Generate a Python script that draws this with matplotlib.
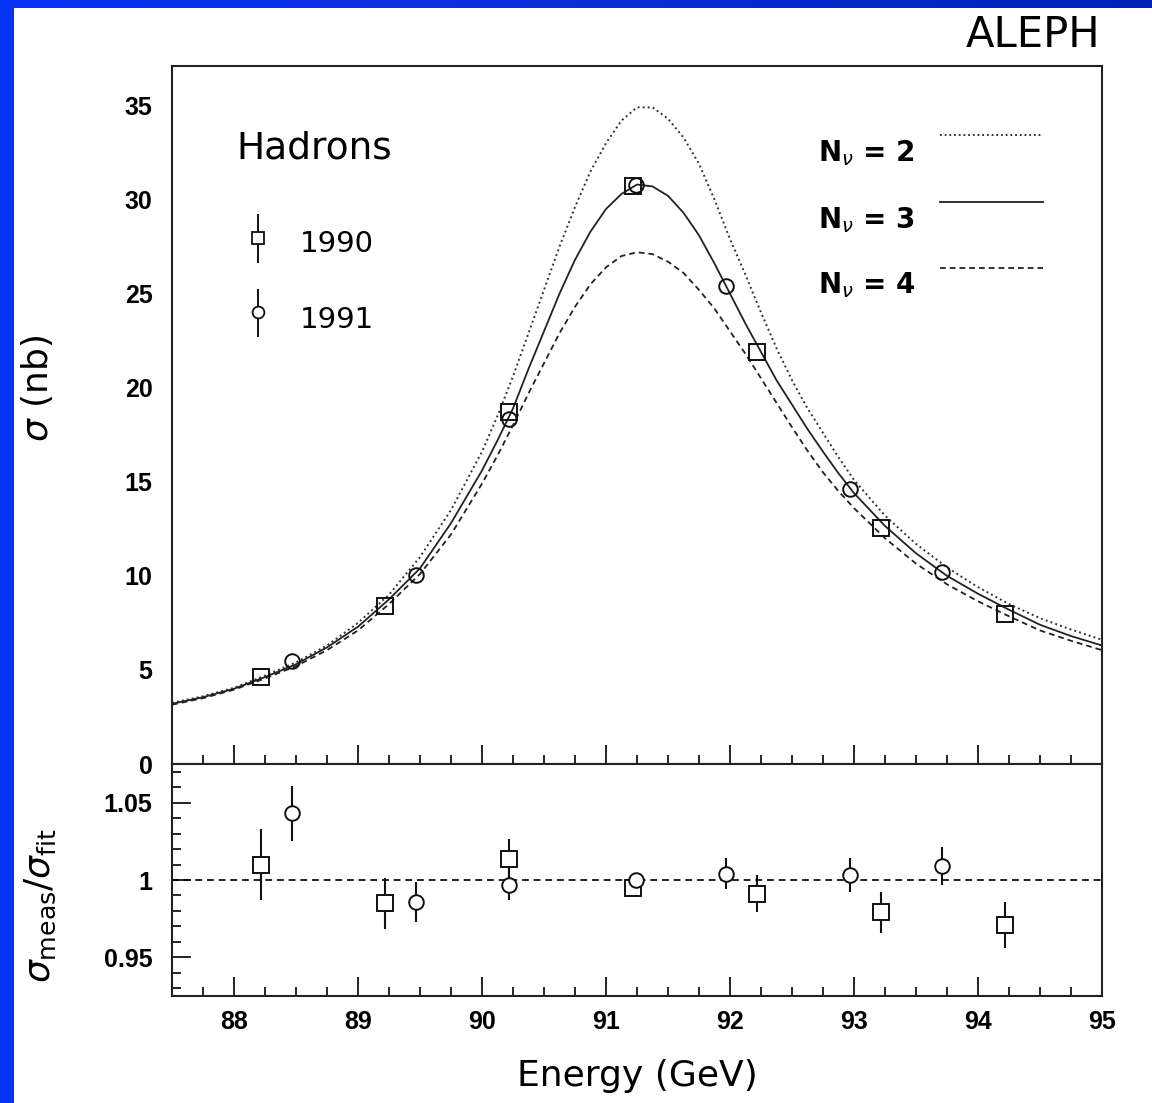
import numpy as np
import matplotlib
matplotlib.use("Agg")
import matplotlib.pyplot as plt
from matplotlib.patches import Rectangle

plt.rcParams['font.family'] = ['DejaVu Sans']
plt.rcParams['mathtext.fontset'] = 'dejavusans'

# --- data ---
energy_curve = [87.5, 87.75, 88.0, 88.25, 88.5, 88.75, 89.0, 89.25, 89.5, 89.75,
                90.0, 90.125, 90.25, 90.375, 90.5, 90.625, 90.75, 90.875, 91.0, 91.125,
                91.25, 91.375, 91.5, 91.625, 91.75, 91.875, 92.0, 92.125, 92.25, 92.375,
                92.5, 92.625, 92.75, 92.875, 93.0, 93.25, 93.5, 93.75, 94.0, 94.25,
                94.5, 94.75, 95.0]
sigma_nu2 = [3.25, 3.6, 4.05, 4.7, 5.4, 6.3, 7.5, 9.0, 11.0, 13.5,
             16.6, 18.5, 20.6, 22.9, 25.2, 27.5, 29.6, 31.5, 33.0, 34.2,
             34.9, 34.9, 34.3, 33.3, 31.9, 30.0, 27.9, 26.0, 24.0, 22.1,
             20.4, 18.9, 17.6, 16.3, 15.1, 13.2, 11.7, 10.45, 9.4, 8.5,
             7.75, 7.15, 6.6]
sigma_nu3 = [3.2, 3.55, 4.0, 4.62, 5.3, 6.2, 7.3, 8.75, 10.4, 12.8,
             15.6, 17.2, 18.9, 21.0, 23.0, 25.0, 26.8, 28.3, 29.5, 30.3,
             30.8, 30.7, 30.2, 29.3, 28.1, 26.6, 25.0, 23.4, 21.9, 20.4,
             19.1, 17.8, 16.6, 15.45, 14.4, 12.65, 11.2, 10.0, 9.05, 8.2,
             7.4, 6.8, 6.3]
sigma_nu4 = [3.15, 3.5, 3.95, 4.55, 5.2, 6.05, 7.1, 8.5, 10.1, 12.2,
             14.9, 16.4, 18.0, 19.7, 21.3, 22.9, 24.3, 25.5, 26.4, 27.0,
             27.2, 27.1, 26.7, 26.1, 25.2, 24.2, 23.0, 21.8, 20.5, 19.2,
             17.9, 16.65, 15.5, 14.5, 13.6, 12.0, 10.65, 9.55, 8.65, 7.85,
             7.1, 6.55, 6.05]

e_1990 = [88.22, 89.22, 90.22, 91.22, 92.22, 93.22, 94.22]
s_1990 = [4.63, 8.4, 18.7, 30.7, 21.9, 12.55, 7.98]
r_1990 = [1.010, 0.985, 1.0135, 0.995, 0.991, 0.979, 0.971]
rerr_1990 = [0.023, 0.0165, 0.013, 0.003, 0.012, 0.013, 0.015]

e_1991 = [88.47, 89.47, 90.22, 91.24, 91.97, 92.97, 93.71]
s_1991 = [5.48, 10.05, 18.35, 30.8, 25.4, 14.6, 10.2]
r_1991 = [1.043, 0.986, 0.997, 1.000, 1.004, 1.003, 1.009]
rerr_1991 = [0.018, 0.013, 0.010, 0.003, 0.010, 0.011, 0.0125]

W, H = 1152, 1103
fig = plt.figure(figsize=(W / 100, H / 100), dpi=100)
fig.patch.set_facecolor('white')

# blue slide frame (left and top strips)
fig.patches.append(Rectangle((0, 0), 14 / W, 1, transform=fig.transFigure,
                             facecolor='#0832f4', edgecolor='none', zorder=0))
band = fig.add_axes([0, 1 - 8 / H, 1, 8 / H])
band.imshow(np.linspace(0, 1, 256)[None, :], aspect='auto',
            cmap=matplotlib.colors.LinearSegmentedColormap.from_list('b', ['#0832f4', '#0a2fd8', '#0022b8']))
band.axis('off')

ax1 = fig.add_axes([172 / W, 1 - 764 / H, 930 / W, 698 / H])
ax2 = fig.add_axes([172 / W, 1 - 996 / H, 930 / W, 232 / H])

tick_font = {'family': 'Liberation Sans', 'weight': 'bold', 'size': 18}
lw = 1.3

# ---- top panel ----
ax1.plot(energy_curve, sigma_nu2, color='#333333', lw=1.4, ls=(0, (1, 1.6)))
ax1.plot(energy_curve, sigma_nu3, color='#222222', lw=lw, ls='-')
ax1.plot(energy_curve, sigma_nu4, color='#222222', lw=lw, ls=(0, (3.2, 2.2)))
ax1.plot(e_1990, s_1990, ls='none', marker='s', ms=11, mfc='none', mec='#111111', mew=1.4)
ax1.plot(e_1991, s_1991, ls='none', marker='o', ms=10.5, mfc='none', mec='#111111', mew=1.4)

ax1.set_xlim(87.5, 95)
ax1.set_ylim(0, 37.1)
ax1.set_yticks([0, 5, 10, 15, 20, 25, 30, 35])
ax1.set_xticks(np.arange(88, 96, 1))
ax1.set_xticks(np.arange(87.75, 95, 0.25), minor=True)
ax1.tick_params(axis='x', which='both', direction='in', bottom=True, top=False,
                labelbottom=False, width=1.2)
ax1.tick_params(axis='x', which='major', length=13.5)
ax1.tick_params(axis='x', which='minor', length=6.5)
ax1.tick_params(axis='y', which='both', left=False, right=False, length=0, pad=14)
for lab in ax1.get_yticklabels():
    lab.set_fontproperties(matplotlib.font_manager.FontProperties(**tick_font))

# legend: data years
t = ax1.transAxes
ax1.text(0.0688, 0.8825, 'Hadrons', transform=t, fontsize=27, va='center', ha='left')
ax1.plot([0.0925, 0.0925], [0.7192, 0.7865], transform=t, color='#111111', lw=1.4)
ax1.plot([0.0925], [0.7536], transform=t, marker='s', ms=8.5, mfc='white', mec='#111111', mew=1.3)
ax1.text(0.1376, 0.745, '1990', transform=t, fontsize=21, va='center', ha='left')
ax1.plot([0.0925, 0.0925], [0.613, 0.679], transform=t, color='#111111', lw=1.4)
ax1.plot([0.0925], [0.6476], transform=t, marker='o', ms=8.5, mfc='white', mec='#111111', mew=1.3)
ax1.text(0.1376, 0.636, '1991', transform=t, fontsize=21, va='center', ha='left')

# legend: neutrino families
nu_labels = [r'N$_\nu$ = 2', r'N$_\nu$ = 3', r'N$_\nu$ = 4']
nu_styles = [(0, (1, 1.6)), '-', (0, (3.2, 2.2))]
text_y = [0.8754, 0.779, 0.686]
line_y = [0.9011, 0.8052, 0.7106]
for lab, st, ty, ly in zip(nu_labels, nu_styles, text_y, line_y):
    ax1.text(0.6946, ty, lab, transform=t, fontsize=20, fontweight='bold', va='center', ha='left')
    ax1.plot([0.8258, 0.9366], [ly, ly], transform=t, color='#222222', lw=lw, ls=st)

# ---- ratio panel ----
ax2.axhline(1.0, color='#222222', lw=1.4, ls=(0, (3.5, 2.5)), zorder=1)
ax2.errorbar(e_1990, r_1990, yerr=rerr_1990, fmt='s', ms=11, mfc='white', mec='#111111',
             mew=1.4, ecolor='#111111', elinewidth=1.5, capsize=0, zorder=3)
ax2.errorbar(e_1991, r_1991, yerr=rerr_1991, fmt='o', ms=10.5, mfc='white', mec='#111111',
             mew=1.4, ecolor='#111111', elinewidth=1.5, capsize=0, zorder=3)

ax2.set_xlim(87.5, 95)
ax2.set_ylim(0.925, 1.075)
ax2.set_xticks(np.arange(88, 96, 1))
ax2.set_xticks(np.arange(87.75, 95, 0.25), minor=True)
ax2.set_yticks([0.95, 1.0, 1.05])
ax2.set_yticklabels(['0.95', '1', '1.05'])
ax2.set_yticks(np.arange(0.93, 1.075, 0.01), minor=True)
ax2.tick_params(axis='both', which='both', direction='in', top=False, right=False, width=1.2)
ax2.tick_params(axis='both', which='major', length=13.5)
ax2.tick_params(axis='both', which='minor', length=6.5)
ax2.tick_params(axis='y', pad=14)
ax2.tick_params(axis='x', pad=10)
for lab in ax2.get_yticklabels() + ax2.get_xticklabels():
    lab.set_fontproperties(matplotlib.font_manager.FontProperties(**tick_font))

for ax in (ax1, ax2):
    for sp in ax.spines.values():
        sp.set_linewidth(1.5)
        sp.set_color('#222222')

ax2.set_xlabel('Energy (GeV)', fontsize=26, labelpad=18)
fig.text(37 / W, 1 - 388 / H, r'$\sigma$ (nb)', rotation=90, fontsize=26, ha='center', va='center')
fig.text(40 / W, 1 - 905 / H, r'$\sigma_{\mathrm{meas}}/\sigma_{\mathrm{fit}}$', rotation=90,
         fontsize=26, ha='center', va='center')
fig.text(1100 / W, 1 - 35 / H, 'ALEPH', fontsize=30, ha='right', va='center')

fig.savefig('out.png', dpi=100, facecolor='white')
